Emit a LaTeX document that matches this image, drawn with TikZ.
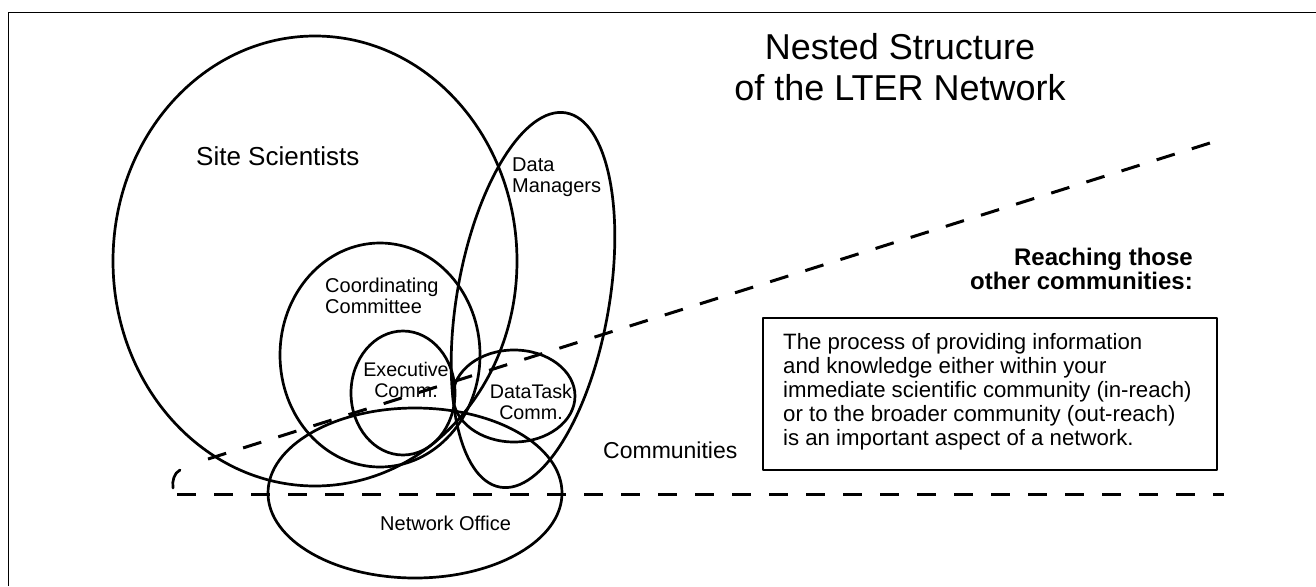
\documentclass[tikz,border=0pt]{standalone}
\usepackage{fontspec}
\setmainfont{Liberation Sans}
\usetikzlibrary{shapes.geometric}
\begin{document}
\begin{tikzpicture}[x=1pt,y=-1pt,line join=round,
  oval/.style={draw,ellipse,line width=2.7pt,inner sep=0pt},
  lbl/.style={inner sep=0pt,align=left,anchor=north west,font=\fontsize{20}{21}\selectfont},
  clbl/.style={inner sep=0pt,align=center,anchor=north,font=\fontsize{19.7}{21}\selectfont},
  dashline/.style={line width=3pt,dash pattern=on 19pt off 18pt}]
\useasboundingbox (0,0) rectangle (1316,586);
% frame
\coordinate (fbl) at (8.5,586);
\coordinate (ftl) at (8.5,12.7);
\coordinate (ftr) at (1316,12.7);
\draw[line width=1.6pt] (fbl) -- (ftl) -- (ftr);
% title
\node[inner sep=0pt,align=center,anchor=north,font=\fontsize{36}{41}\selectfont] (title) at (900,33) {Nested Structure\\of the LTER Network};
% ovals
\node[oval,minimum width=404pt,minimum height=450pt] (site) at (315,261) {};
\node[oval,minimum width=152pt,minimum height=380pt,rotate=-10] (dm) at (533,300) {};
\node[oval,minimum width=200pt,minimum height=224pt] (coord) at (380,355) {};
\node[oval,minimum width=104pt,minimum height=124pt] (exec) at (403,393) {};
\node[oval,minimum width=122pt,minimum height=92pt] (dtc) at (514,396) {};
\node[oval,minimum width=294pt,minimum height=170pt] (netoff) at (415,493) {};
% labels
\node[inner sep=0pt,anchor=north west,font=\fontsize{26}{28}\selectfont] (sitel) at (196,146) {Site Scientists};
\node[lbl] (dml) at (512,158) {Data\\Managers};
\node[lbl] (coordl) at (325,277.5) {Coordinating\\Committee};
\node[clbl] (execl) at (406,362.5) {Executive\\Comm.};
\node[clbl] (dtcl) at (531,384.5) {DataTask\\Comm.};
\node[inner sep=0pt,anchor=north west,font=\fontsize{20}{22}\selectfont] (netl) at (380,515.5) {Network Office};
\node[inner sep=0pt,anchor=north west,font=\fontsize{23}{25}\selectfont] (comm) at (603,441.5) {Communities};
\node[inner sep=0pt,align=right,anchor=north east,font=\bfseries\fontsize{24}{24.5}\selectfont] (reach) at (1193,247.5) {Reaching those\\other communities:};
% box
\node[draw,line width=2.7pt,minimum width=454pt,minimum height=152pt,inner sep=0pt] (box) at (990,394) {};
\node[inner sep=0pt,align=left,anchor=north west,font=\fontsize{22.2}{24}\selectfont] (boxt) at (783,333) {The process of providing information\\and knowledge either within your\\immediate scientific community (in-reach)\\or to the broader community (out-reach)\\is an important aspect of a network.};
% dashed lines
\coordinate (d1) at (208,459);
\coordinate (d2) at (1210,143);
\draw[line width=3pt,dash pattern=on 19pt off 17.84pt] (d1) -- (d2);
\coordinate (h1) at (177,494);
\coordinate (h2) at (1224,494);
\draw[dashline] (h1) -- (h2);
\coordinate (p1) at (180,470);
\coordinate (p2) at (173,488);
\draw[line width=2.7pt,line cap=round] (p1) .. controls (174,473) and (172,481) .. (p2);
\end{tikzpicture}
\end{document}
